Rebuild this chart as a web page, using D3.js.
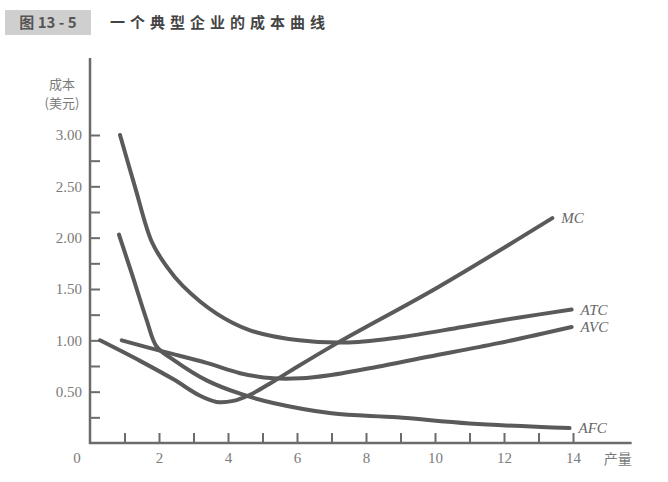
<!DOCTYPE html>
<html>
<head>
<meta charset="utf-8">
<script src="https://cdn.jsdelivr.net/npm/d3@7"></script>
<style>
  body { margin: 0; background: #fff; }
  svg { display: block; }
</style>
</head>
<body>
<div id="container"></div>
<script>
// curve readings: [quantity, cost in dollars]
var atcPoints = [[0.87, 3.00], [1.3, 2.50], [1.79, 1.96], [2.22, 1.72], [2.69, 1.53], [3.67, 1.26],
    [4.62, 1.10], [6.07, 1.00], [7.5, 0.98], [9.0, 1.03], [10.8, 1.13], [12.4, 1.22], [13.96, 1.30]];
var avcPoints = [[0.92, 1.00], [2.13, 0.89], [3.38, 0.78], [4.35, 0.68], [5.31, 0.63], [6.1, 0.63],
    [6.94, 0.66], [8.3, 0.74], [9.8, 0.84], [11.8, 0.97], [13.96, 1.13]];
var afcPoints = [[0.84, 2.03], [1.24, 1.62], [1.64, 1.20], [1.93, 0.94], [2.42, 0.81], [3.38, 0.61],
    [4.35, 0.48], [5.31, 0.39], [7.0, 0.29], [8.9, 0.25], [11.0, 0.19], [13.9, 0.145]];
var mcPoints = [[0.29, 1.00], [1.45, 0.80], [2.42, 0.62], [3.19, 0.46], [3.67, 0.40], [4.15, 0.41],
    [4.64, 0.47], [5.22, 0.58], [5.8, 0.70], [7.2, 0.98], [10.1, 1.52], [13.4, 2.19]];

var seriesNames = ["MC", "ATC", "AVC", "AFC"];
var seriesPoints = [mcPoints, atcPoints, avcPoints, afcPoints];

var xTicks = [1, 2, 3, 4, 5, 6, 7, 8, 9, 10, 11, 12, 13, 14];
var yTicks = [0.25, 0.5, 0.75, 1, 1.25, 1.5, 1.75, 2, 2.25, 2.5, 2.75, 3];
var xAxisEnd = 15.7;
var yAxisTop = 3.75;

var figureTag = "图 13 - 5";
var figureTitle = "一个典型企业的成本曲线";
var yTitle = ["成本", "(美元)"];
var xTitle = "产量";

var width = 668, height = 482;
var axisColor = "#6b6b6b", lineColor = "#5a5a5a", textColor = "#7a7a7a";
var serif = "'Liberation Serif', 'DejaVu Serif', serif";
var cjk = "'Noto Sans CJK SC', sans-serif";

var svg = d3.select("#container").append("svg")
    .attr("width", width)
    .attr("height", height);

var x = d3.scaleLinear().domain([0, 14]).range([90, 573]);
var y = d3.scaleLinear().domain([0, 3]).range([443, 135]);

// title
svg.append("rect")
    .attr("x", 5).attr("y", 10)
    .attr("width", 86).attr("height", 25)
    .attr("fill", "#cfcfcf");
svg.append("text")
    .attr("x", 48).attr("y", 28)
    .attr("text-anchor", "middle")
    .attr("font-family", cjk)
    .attr("font-weight", "bold")
    .attr("font-size", 15)
    .attr("fill", "#555")
    .text(figureTag);
svg.append("text")
    .attr("x", 110).attr("y", 28)
    .attr("font-family", cjk)
    .attr("font-weight", "bold")
    .attr("font-size", 15)
    .attr("letter-spacing", 5)
    .attr("fill", "#444")
    .text(figureTitle);

// axes
var yAxis = svg.append("g")
    .attr("transform", "translate(" + x(0) + ",0)")
    .call(d3.axisLeft(y)
        .tickValues(yTicks)
        .tickSizeInner(-10)
        .tickSizeOuter(0)
        .tickPadding(8)
        .tickFormat(function (d) { return d % 0.5 === 0 ? d3.format(".2f")(d) : ""; }));

var xAxis = svg.append("g")
    .attr("transform", "translate(0," + y(0) + ")")
    .call(d3.axisBottom(x)
        .tickValues(xTicks)
        .tickSizeInner(-10)
        .tickSizeOuter(0)
        .tickPadding(9)
        .tickFormat(function (d) { return d % 2 === 0 ? d : ""; }));

for (const axis of [xAxis, yAxis])
{
    axis.select(".domain").remove();
    axis.selectAll(".tick line").attr("stroke", axisColor).attr("stroke-width", 2);
    axis.selectAll(".tick text")
        .attr("fill", textColor)
        .attr("font-family", serif)
        .attr("font-size", 15);
}

svg.append("line")
    .attr("x1", x(0)).attr("x2", x(0))
    .attr("y1", y(0) + 1).attr("y2", y(yAxisTop))
    .attr("stroke", axisColor).attr("stroke-width", 2.5);
svg.append("line")
    .attr("x1", x(0) - 1).attr("x2", x(xAxisEnd))
    .attr("y1", y(0)).attr("y2", y(0))
    .attr("stroke", axisColor).attr("stroke-width", 2.5);

svg.append("text")
    .attr("x", x(0) - 13).attr("y", y(0) + 20)
    .attr("text-anchor", "middle")
    .attr("font-family", serif)
    .attr("font-size", 15)
    .attr("fill", textColor)
    .text("0");

svg.append("text")
    .attr("x", x(xAxisEnd) - 14).attr("y", y(0) + 21)
    .attr("text-anchor", "middle")
    .attr("font-family", cjk)
    .attr("font-size", 14)
    .attr("fill", textColor)
    .text(xTitle);

svg.selectAll(".ytitle")
    .data(yTitle)
    .enter().append("text")
    .attr("class", "ytitle")
    .attr("x", 62)
    .attr("y", function (d, i) { return 89 + i * 19; })
    .attr("text-anchor", "middle")
    .attr("font-family", cjk)
    .attr("font-size", 13)
    .attr("fill", textColor)
    .text(function (d) { return d; });

// curves
var line = d3.line()
    .x(function (d) { return x(d[0]); })
    .y(function (d) { return y(d[1]); })
    .curve(d3.curveCatmullRom.alpha(0.5));

svg.selectAll(".curve")
    .data(seriesPoints)
    .enter().append("path")
    .attr("class", "curve")
    .attr("d", line)
    .attr("fill", "none")
    .attr("stroke", lineColor)
    .attr("stroke-width", 4)
    .attr("stroke-linecap", "round")
    .attr("stroke-linejoin", "round");

svg.selectAll(".label")
    .data(seriesPoints)
    .enter().append("text")
    .attr("class", "label")
    .attr("x", function (d) { return x(d[d.length - 1][0]) + 9; })
    .attr("y", function (d) { return y(d[d.length - 1][1]) + 5; })
    .attr("font-family", serif)
    .attr("font-style", "italic")
    .attr("font-size", 15)
    .attr("fill", "#666")
    .text(function (d, i) { return seriesNames[i]; });
</script>
</body>
</html>
